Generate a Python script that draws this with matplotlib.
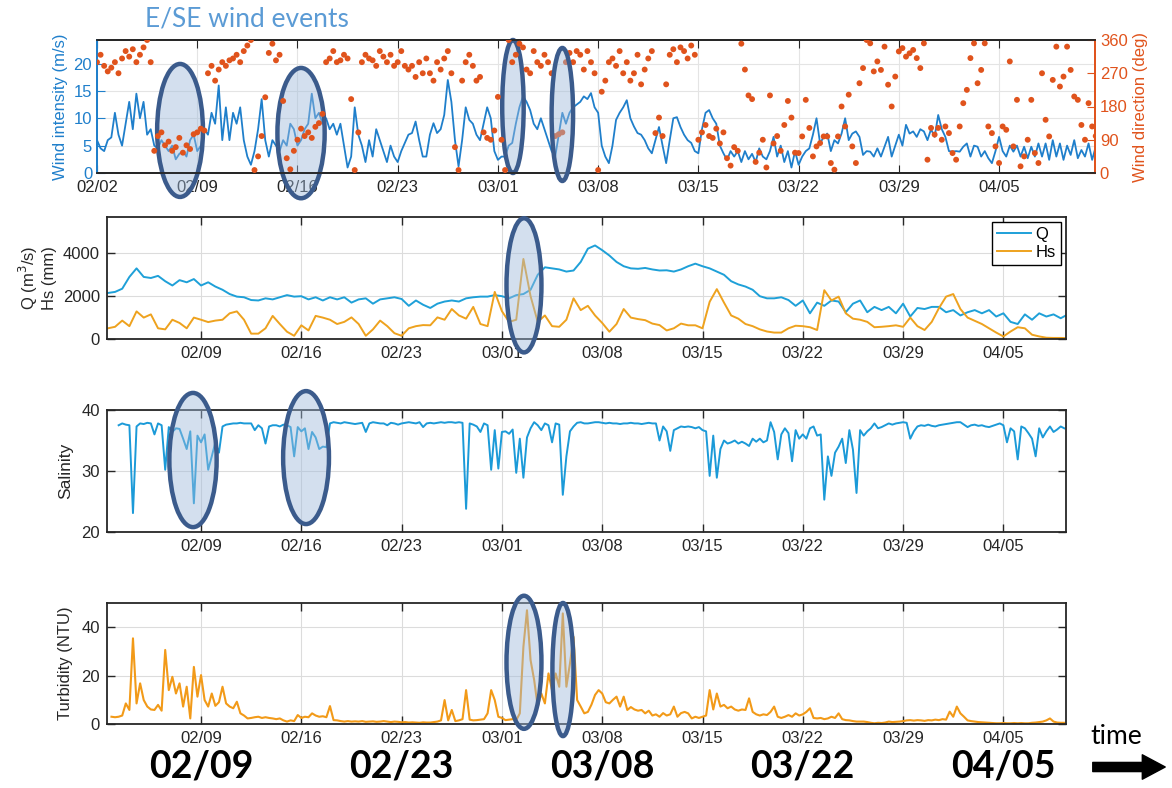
import numpy as np
import pandas as pd
import matplotlib
matplotlib.use('Agg')
import matplotlib.pyplot as plt
import matplotlib.dates as mdates
from matplotlib.patches import Ellipse, FancyArrowPatch
from matplotlib.transforms import blended_transform_factory

plt.rcParams['font.family'] = ['Liberation Sans', 'DejaVu Sans']

# ---- data ----
# wind intensity (m/s), every 6 h from 02/02 00:00
wind_speed = [6, 4.5, 4, 6, 6.5, 11, 7, 5, 9, 13, 8, 14.5, 10, 13, 7, 8,
              5, 4.5, 6, 5, 4, 5, 2.5, 3.5, 4, 3, 6, 7, 4, 5, 8, 7,
              11, 9, 16, 6, 12, 6, 11, 9, 12, 6, 3, 1.5, 4, 8, 13.5, 6,
              3, 6, 5, 4, 6, 5, 9, 8, 5, 6, 8, 9, 14.5, 10, 11, 9,
              10, 8, 9, 7, 9, 5, 1, 3, 12, 7, 5, 2, 6, 3, 8, 6,
              4, 2, 5, 3, 2, 4, 5.5, 7, 7.3, 9.4, 6, 3, 3, 7, 9.1, 7.3,
              8, 10.6, 17, 13, 6, 1.2, 6, 12, 9.7, 9, 7, 6, 9, 12, 10, 4,
              2.4, 3, 3, 5, 5.5, 9, 12, 14, 13, 11.5, 9, 8, 10, 8, 6, 4,
              3, 7, 11, 9, 11, 12, 12.5, 13, 14, 13.5, 14.6, 12, 11, 5, 3, 1.8,
              5, 9.7, 11, 12, 13.3, 10, 8.5, 7.3, 7, 6, 4.5, 3.6, 6, 8.4, 5, 1.8,
              6, 10, 10.2, 8.4, 7, 6, 5.5, 4, 3.6, 8, 11, 11.5, 10, 9, 5, 3.6,
              2.4, 4, 3, 4, 2, 4, 2.5, 3.5, 2, 4.5, 3, 2.5, 4, 6.6, 3, 5,
              2, 4, 1, 4, 1.5, 3, 4, 4.5, 7, 10, 5.4, 6.6, 7.2, 4, 6, 5.4,
              7.2, 10, 6, 7.2, 7.6, 6.6, 3.3, 4, 3.9, 3, 4.5, 3, 4.8, 6.6, 3, 5,
              7, 5, 8.8, 7.2, 7.6, 6.6, 8, 7.6, 6, 8, 6.6, 10.6, 8, 6.6, 4, 3.9,
              4, 3.9, 4.8, 5.4, 3, 5, 4.8, 3, 4, 2.7, 1.8, 4, 6.6, 4, 3, 5,
              3.9, 5, 3, 4.8, 2.7, 4.8, 3, 5.4, 3, 5.4, 2.4, 6, 3, 5.4, 2.4, 5,
              3.3, 6, 2.7, 4.2, 3, 5.4, 2.4, 4.8]

# wind direction (deg), every 6 h from 02/02 00:00
wind_dir = [300, 320, 290, 275, 285, 300, 270, 310, 330, 315, 335, 300,
            320, 340, 360, 300, 60, 100, 110, 75, 85, 60, 70, 95,
            55, 75, 65, 105, 110, 120, 115, 270, 290, 250, 280, 300,
            290, 305, 310, 320, 300, 330, 345, 360, 8, 45, 100, 205,
            325, 350, 305, 320, 195, 40, 10, 60, 90, 120, 100, 110,
            95, 125, 135, 160, 300, 310, 330, 300, 305, 320, 310, 200,
            8, 110, 300, 320, 310, 305, 290, 330, 315, 300, 320, 290,
            300, 330, 290, 280, 290, 260, 300, 270, 310, 270, 250, 300,
            280, 310, 330, 270, 70, 8, 250, 300, 320, 290, 250, 260,
            110, 95, 90, 115, 206, 90, 8, 360, 300, 320, 350, 340,
            280, 270, 330, 300, 290, 320, 300, 270, 100, 105, 110, 300,
            325, 300, 330, 320, 280, 330, 300, 270, 8, 220, 250, 300,
            310, 290, 330, 270, 300, 250, 270, 320, 240, 280, 310, 330,
            108, 150, 100, 240, 320, 335, 300, 340, 330, 310, 345, 320,
            90, 110, 130, 100, 95, 120, 80, 110, 40, 20, 70, 60,
            350, 280, 210, 200, 30, 55, 90, 15, 210, 80, 100, 60,
            130, 195, 150, 55, 54, 99, 198, 122, 45, 72, 81, 99,
            99, 27, 9, 99, 180, 126, 212, 72, 27, 243, 284, 360,
            351, 275, 302, 279, 342, 239, 180, 261, 329, 338, 315, 324,
            333, 311, 284, 351, 36, 122, 104, 122, 90, 126, 108, 54,
            36, 126, 189, 225, 311, 351, 243, 279, 351, 126, 108, 72,
            27, 126, 117, 302, 72, 198, 18, 45, 90, 198, 54, 27,
            270, 144, 99, 252, 342, 234, 261, 342, 279, 207, 198, 130,
            90, 189, 126, 100]

# river discharge Q (m3/s) and wave height Hs (mm), every 12 h from 02/02 12:00
discharge = [2150, 2200, 2350, 2900, 3300, 2900, 2850, 2950, 2700, 2500,
             2750, 2650, 2800, 2500, 2650, 2450, 2300, 2100, 1980, 1950,
             1820, 1800, 1900, 1850, 1950, 2050, 1980, 2000, 1850, 1950,
             1800, 1950, 1850, 1950, 1700, 1850, 1900, 1650, 1850, 1900,
             1950, 1870, 1550, 1800, 1600, 1450, 1650, 1750, 1800, 1750,
             1900, 1950, 1980, 1980, 2050, 2000, 1900, 2050, 2100, 2300,
             3000, 3350, 3300, 3250, 3150, 3200, 3600, 4220, 4370, 4150,
             3900, 3600, 3400, 3300, 3280, 3320, 3250, 3200, 3210, 3150,
             3250, 3400, 3520, 3400, 3300, 3150, 3000, 2700, 2550, 2450,
             2300, 2000, 1900, 1900, 1950, 1820, 1550, 1800, 1200, 1700,
             1550, 1800, 1750, 1250, 1650, 1800, 1250, 1500, 1350, 1500,
             1200, 1650, 1050, 1450, 1400, 1500, 1500, 1250, 1350, 1100,
             1250, 1350, 1200, 1350, 1050, 1200, 800, 700, 1150, 900,
             1200, 1050, 1150, 970, 1150]
wave_hs = [500, 570, 860, 600, 1290, 1000, 1150, 500, 450, 900,
           750, 500, 1000, 900, 790, 860, 900, 1200, 1290, 900,
           250, 250, 500, 1080, 700, 340, 150, 640, 400, 1080,
           1000, 900, 700, 800, 1010, 700, 150, 450, 860, 600,
           270, 150, 500, 600, 650, 640, 1010, 900, 1400, 1100,
           950, 1500, 700, 600, 2200, 1300, 800, 900, 3740, 2000,
           800, 1100, 600, 570, 900, 1900, 1350, 1550, 1100, 750,
           340, 700, 1400, 1000, 930, 880, 720, 650, 400, 500,
           720, 640, 640, 500, 1740, 2330, 1700, 1100, 950, 700,
           600, 450, 350, 300, 300, 500, 620, 600, 550, 420,
           2280, 1800, 1980, 1200, 950, 900, 800, 550, 570, 600,
           640, 570, 1000, 600, 420, 800, 1440, 1980, 2100, 1400,
           1000, 850, 700, 500, 300, 120, 350, 550, 500, 200,
           120, 60, 50, 50, 40]

# salinity, every 6 h from 02/03 06:00
salinity = [37.5, 37.8, 37.6,
            37.5, 23.1, 37.3, 37.8, 37.7, 37.9, 37.8, 36.0, 37.8, 37.5, 30.2, 37.2,
            36.4, 37.0, 36.9, 35.3, 33.6, 36.5, 24.7, 35.8, 34.7, 36.0, 30.2, 32.4,
            34.7, 33.0, 37.3, 37.6, 37.7, 37.8, 37.8, 37.9, 37.8, 37.8, 37.8, 36.7,
            37.5, 37.0, 34.5, 37.3, 37.5, 37.5, 37.3, 37.6, 37.5, 37.2, 32.4, 37.2,
            36.5, 37.0, 33.6, 36.4, 35.5, 33.6, 34.0, 33.9, 37.8, 38.0, 37.9, 37.8,
            38.0, 37.9, 37.8, 37.7, 37.8, 37.9, 36.4, 37.8, 38.0, 37.9, 37.8, 37.8,
            37.5, 37.9, 37.8, 37.6, 37.8, 37.9, 38.0, 37.9, 37.8, 38.0, 37.2, 37.8,
            37.9, 37.8, 37.9, 38.0, 37.9, 38.0, 38.0, 37.9, 38.0, 37.9, 23.8, 37.8,
            37.6, 37.3, 36.4, 37.8, 37.5, 30.2, 36.7, 30.4, 36.4, 36.5, 36.1, 36.8,
            29.7, 35.3, 28.9, 35.5, 37.0, 38.0, 37.5, 36.7, 37.8, 37.5, 34.7, 37.8,
            37.6, 26.1, 32.4, 36.5, 37.3, 37.9, 38.0, 37.8, 37.8, 37.9, 38.0, 38.0,
            37.9, 37.8, 37.9, 37.8, 37.8, 37.7, 37.8, 37.8, 37.9, 37.8, 37.8, 37.7,
            37.8, 37.9, 37.8, 37.8, 35.0, 37.3, 36.5, 33.3, 36.7, 37.0, 37.3, 37.2,
            37.3, 37.2, 37.0, 37.2, 36.7, 36.5, 29.2, 35.8, 28.9, 33.6, 35.0, 34.5,
            34.7, 35.0, 34.5, 34.8, 34.5, 34.1, 35.3, 34.8, 35.3, 34.7, 35.0, 38.0,
            36.4, 31.9, 36.0, 37.0, 36.2, 31.6, 36.7, 35.3, 36.0, 35.3, 37.0, 37.3,
            35.8, 36.0, 25.3, 32.4, 29.2, 33.0, 34.0, 35.3, 31.3, 36.7, 33.5, 26.4,
            36.7, 35.8, 36.5, 37.0, 37.8, 37.0, 37.2, 37.5, 37.8, 37.6, 37.8, 37.9,
            38.0, 37.9, 35.3, 36.5, 37.3, 37.5, 37.4, 37.6, 37.4, 37.3, 37.5, 37.6,
            37.7, 37.8, 37.9, 38.0, 38.0, 37.6, 37.2, 37.5, 37.6, 37.4, 37.5, 37.3,
            37.2, 37.4, 37.6, 37.8, 37.5, 34.7, 37.0, 36.5, 31.9, 37.3, 37.0, 36.2,
            35.3, 32.4, 37.0, 35.5, 36.5, 37.3, 36.4, 36.8, 37.3, 37.0]

# turbidity (NTU), every 6 h from 02/02 18:00
turbidity = [3.0,
             2.8, 3.0, 3.5, 8.5, 5.8, 35.4, 8.5, 16.8, 9.9, 7.2, 6.0, 5.8,
             7.9, 5.5, 30.6, 14, 19.5, 12.6, 16.8, 7.2, 15.4, 2.3, 23.6, 11.3,
             20.2, 9.9, 7.2, 12.6, 7.5, 9.0, 15.4, 8.5, 7.2, 6.5, 9.2, 4.4,
             3.5, 2.3, 2.5, 2.8, 3.0, 2.5, 2.8, 2.5, 2.3, 2.0, 2.3, 1.5,
             1.0, 1.5, 1.2, 3.7, 2.5, 3.0, 2.8, 4.4, 3.5, 3.0, 3.2, 2.8,
             7.4, 1.6, 1.5, 1.2, 1.0, 1.2, 1.0, 1.1, 1.0, 1.2, 0.9, 1.0,
             1.1, 0.9, 1.0, 1.2, 1.0, 0.8, 1.0, 0.9, 0.7, 0.8, 0.6, 0.7,
             0.6, 0.5, 0.7, 0.6, 0.6, 0.8, 1.0, 1.5, 9.9, 1.5, 5.8, 1.2,
             1.5, 2.0, 14.0, 1.8, 1.5, 1.6, 1.8, 2.0, 4.4, 14.0, 9.9, 3.0,
             2.5, 1.6, 1.8, 2.0, 1.6, 4.4, 31.9, 47.0, 26.4, 18.2, 7.2, 12.6,
             8.5, 20.9, 14.0, 20.9, 15.4, 45.7, 15.4, 25.0, 36.0, 9.9, 7.2, 4.4,
             5.0, 8.0, 12.0, 14.0, 12.6, 9.0, 8.5, 10.0, 11.3, 7.2, 11.3, 5.8,
             7.0, 6.0, 5.5, 5.8, 4.4, 5.5, 3.5, 4.0, 3.0, 4.5, 3.5, 4.0,
             7.2, 3.0, 4.5, 5.0, 4.4, 2.3, 3.0, 2.5, 3.0, 3.5, 14.0, 6.0,
             12.6, 7.2, 7.9, 6.5, 7.2, 6.0, 5.5, 6.0, 5.8, 10.6, 5.0, 4.0,
             3.5, 4.0, 3.7, 5.0, 7.2, 3.0, 2.5, 3.0, 3.7, 3.0, 4.4, 3.5,
             4.0, 5.0, 6.5, 2.5, 2.3, 2.5, 2.0, 2.3, 3.0, 2.5, 4.4, 2.0,
             1.6, 1.5, 1.2, 1.0, 1.0, 1.0, 0.8, 0.5, 0.3, 0.5, 0.4, 0.6,
             1.0, 0.8, 0.9, 1.0, 1.2, 1.5, 1.6, 1.4, 1.6, 1.5, 1.3, 1.6,
             1.5, 1.8, 1.6, 2.0, 1.8, 5.1, 3.0, 7.2, 4.4, 3.0, 1.5, 1.2,
             1.0, 0.8, 0.7, 0.6, 0.5, 0.4, 0.3, 0.3, 0.4, 0.3, 0.3, 0.4,
             0.3, 0.4, 0.3, 0.3, 0.5, 0.6, 0.8, 1.0, 1.5, 2.3, 1.0, 0.6,
             0.5, 0.5]

big_dates = ['02/09', '02/23', '03/08', '03/22', '04/05']


def times(start, n, hours):
    return pd.Timestamp(start) + pd.to_timedelta(np.arange(n) * hours, unit='h')


t_wind = times('2016-02-02 00:00', len(wind_speed), 6)
t_dir = times('2016-02-02 00:00', len(wind_dir), 6)
t_q = times('2016-02-02 12:00', len(discharge), 12)
t_hs = times('2016-02-02 12:00', len(wave_hs), 12)
t_sal = times('2016-02-03 06:00', len(salinity), 6)
t_tur = times('2016-02-02 18:00', len(turbidity), 6)

# ---- colours ----
DARK = '#262626'
C_WIND = '#1f7fcb'
C_DIR = '#e0531c'
C_Q = '#1ea0d8'
C_HS = '#eea21e'
C_SAL = '#1b9ad8'
C_TUR = '#f29a18'
E_EDGE = '#3b5b8c'

W, H = 1172, 788
fig = plt.figure(figsize=(W / 100, H / 100), dpi=100)

day0 = pd.Timestamp('2016-02-02')
tick_dates = pd.date_range('2016-02-02', '2016-04-05', freq='7D')
fmt = mdates.DateFormatter('%m/%d')


def ellipse(ax, day, w, yc, h):
    x = mdates.date2num(day0 + pd.Timedelta(days=day))
    tr = blended_transform_factory(ax.transData, ax.transAxes)
    e = Ellipse((x, yc), w, h, transform=tr, facecolor=(0.62, 0.73, 0.86, 0.45),
                edgecolor=E_EDGE, lw=3.2, clip_on=False, zorder=10)
    ax.add_patch(e)


def style(ax):
    ax.set_xticks(tick_dates)
    ax.xaxis.set_major_formatter(fmt)
    ax.set_xlim(day0 + pd.Timedelta(hours=10.5), day0 + pd.Timedelta(days=67.37))
    ax.tick_params(direction='in', top=True, right=True, length=6, width=1,
                   labelsize=12, colors=DARK, pad=5)
    ax.grid(True, color='#dcdcdc', lw=0.8)
    ax.set_axisbelow(True)
    for s in ax.spines.values():
        s.set_color(DARK)
        s.set_linewidth(1.3)


# ---- panel 1: wind ----
ax1 = fig.add_axes([97 / W, 1 - 173 / H, 998 / W, 133 / H])
ax1.plot(t_wind, wind_speed, color=C_WIND, lw=1.3)
ax1.set_ylim(0, 24.3)
ax1.set_yticks([0, 5, 10, 15, 20])
ax1.set_xticks(tick_dates)
ax1.xaxis.set_major_formatter(fmt)
ax1.set_xlim(day0, day0 + pd.Timedelta(days=69.7))
ax1.grid(True, color='#e4e4e4', lw=0.8)
ax1.set_axisbelow(True)
ax1.tick_params(axis='x', direction='in', top=True, length=6, labelsize=12, colors=DARK, pad=5)
ax1.tick_params(axis='y', direction='in', length=6, labelsize=12, colors=C_WIND)
ax1.set_ylabel('Wind intensity (m/s)', color=C_WIND, fontsize=12, labelpad=4)

ax1b = ax1.twinx()
ax1b.scatter(t_dir, wind_dir, s=18, color=C_DIR, edgecolors='none', zorder=3)
ax1b.set_ylim(0, 360)
ax1b.set_yticks([0, 90, 180, 270, 360])
ax1b.tick_params(axis='y', direction='in', length=6, labelsize=12, colors=C_DIR)
ax1b.set_ylabel('Wind direction (deg)', color=C_DIR, fontsize=12, labelpad=4)
for a in (ax1, ax1b):
    a.spines['top'].set_color(DARK)
    a.spines['bottom'].set_color(DARK)
    a.spines['left'].set_color(C_WIND)
    a.spines['right'].set_color(C_DIR)
    for s in a.spines.values():
        s.set_linewidth(1.3)

# ---- panel 2: Q and Hs ----
ax2 = fig.add_axes([107 / W, 1 - 339 / H, 959 / W, 122 / H])
ax2.plot(t_q, discharge, color=C_Q, lw=1.4, label='Q')
ax2.plot(t_hs, wave_hs, color=C_HS, lw=1.4, label='Hs')
ax2.set_ylim(0, 5700)
ax2.set_yticks([0, 2000, 4000])
style(ax2)
ax2.set_ylabel('Q (m$^3$/s)\nHs (mm)', fontsize=12, color=DARK, labelpad=4)
ax2.legend(loc='upper right', fancybox=False, edgecolor='black', framealpha=1,
           fontsize=12, handlelength=2.0, borderpad=0.3, labelspacing=0.15,
           borderaxespad=0.3, handletextpad=0.3)

# ---- panel 3: salinity ----
ax3 = fig.add_axes([107 / W, 1 - 532 / H, 959 / W, 122 / H])
ax3.plot(t_sal, salinity, color=C_SAL, lw=1.4)
ax3.set_ylim(20, 40)
ax3.set_yticks([20, 30, 40])
style(ax3)
ax3.set_ylabel('Salinity', fontsize=12.5, color=DARK, labelpad=6)

# ---- panel 4: turbidity ----
ax4 = fig.add_axes([107 / W, 1 - 724 / H, 959 / W, 121 / H])
ax4.plot(t_tur, turbidity, color=C_TUR, lw=1.5)
ax4.set_ylim(0, 50)
ax4.set_yticks([0, 20, 40])
style(ax4)
ax4.set_ylabel('Turbidity (NTU)', fontsize=12, color=DARK, labelpad=6)

# ---- highlighted wind events ----
ellipse(ax1, 5.8, 3.2, 0.32, 1.0)
ellipse(ax1, 14.25, 3.3, 0.30, 0.98)
ellipse(ax1, 29.05, 1.5, 0.5, 1.0)
ellipse(ax1b, 32.5, 1.5, 0.44, 1.0)
ellipse(ax2, 29.54, 2.44, 0.44, 1.1)
ellipse(ax3, 6.44, 3.3, 0.59, 1.1)
ellipse(ax3, 14.33, 3.2, 0.61, 1.09)
ellipse(ax4, 29.54, 2.44, 0.51, 1.1)
ellipse(ax4, 32.26, 1.47, 0.45, 1.1)

# ---- slide annotations ----
fig.text(247 / W, 1 - 19 / H, 'E/SE wind events', color='#5b9bd5', fontsize=19,
         family='Lato', ha='center', va='center')

tr_big = blended_transform_factory(ax4.transData, fig.transFigure)
for lab in big_dates:
    when = mdates.date2num(pd.Timestamp('2016-' + lab.replace('/', '-')))
    ax4.text(when, 1 - 767 / H, lab, transform=tr_big, ha='center', va='center',
             fontsize=27, fontweight='bold', family='Lato', color='black', clip_on=False)

fig.text(1116 / W, 1 - 737 / H, 'time', fontsize=19, family='Lato',
         ha='center', va='center', color='black')
arrow = FancyArrowPatch((1090 / W, 1 - 767 / H), (1168 / W, 1 - 767 / H),
                        transform=fig.transFigure,
                        arrowstyle='simple,head_length=0.75,head_width=0.8,tail_width=0.3',
                        mutation_scale=22, color='black')
fig.add_artist(arrow)

fig.savefig('out.png', dpi=100)
